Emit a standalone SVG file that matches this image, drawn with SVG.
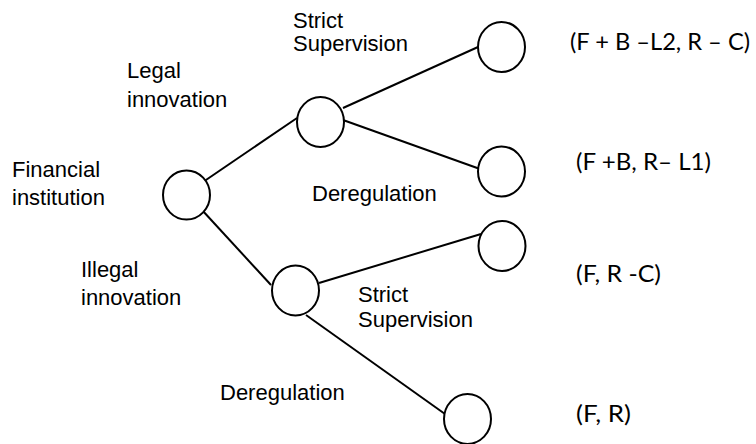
<svg xmlns="http://www.w3.org/2000/svg" width="756" height="444" viewBox="0 0 756 444">
  <style>
    .node { fill: #ffffff; stroke: #000000; stroke-width: 2; }
    .edge { stroke: #000000; stroke-width: 2; fill: none; }
    .lbl { font-family: "Liberation Sans", Arial, sans-serif; font-size: 22px; fill: #000000; }
    .pay { font-family: Lato, "Open Sans", sans-serif; font-size: 24px; fill: #000000; }
  </style>
  <rect width="756" height="444" fill="#ffffff"/>

  <!-- connectors -->
  <g id="connectors">
    <line class="edge" x1="203" y1="182" x2="297" y2="118"/>
    <line class="edge" x1="343" y1="108" x2="478" y2="47"/>
    <line class="edge" x1="343" y1="120" x2="480" y2="169"/>
    <line class="edge" x1="202" y1="210" x2="271" y2="285"/>
    <line class="edge" x1="319" y1="283" x2="481" y2="234"/>
    <line class="edge" x1="306" y1="315" x2="445" y2="414"/>
  </g>

  <!-- decision nodes -->
  <g id="root"><ellipse class="node" cx="186.5" cy="195" rx="23.5" ry="24.5"/></g>
  <g id="legal"><ellipse class="node" cx="320.5" cy="122" rx="23.5" ry="25"/></g>
  <g id="illegal"><ellipse class="node" cx="295.5" cy="290.5" rx="23.5" ry="25"/></g>
  <g id="legal-strict"><ellipse class="node" cx="501.5" cy="47" rx="23.5" ry="25"/></g>
  <g id="legal-dereg"><ellipse class="node" cx="501.5" cy="171.5" rx="23.5" ry="25"/></g>
  <g id="illegal-strict"><ellipse class="node" cx="502" cy="246" rx="23.5" ry="25"/></g>
  <g id="illegal-dereg"><ellipse class="node" cx="467.5" cy="419" rx="23.5" ry="25"/></g>

  <!-- branch labels -->
  <g id="labels">
    <text class="lbl" x="12" y="177">Financial</text>
    <text class="lbl" x="12" y="205">institution</text>
    <text class="lbl" x="127" y="78">Legal</text>
    <text class="lbl" x="127" y="107">innovation</text>
    <text class="lbl" x="293" y="28">Strict</text>
    <text class="lbl" x="293" y="51">Supervision</text>
    <text class="lbl" x="312" y="201">Deregulation</text>
    <text class="lbl" x="81" y="277">Illegal</text>
    <text class="lbl" x="81" y="305">innovation</text>
    <text class="lbl" x="358" y="302">Strict</text>
    <text class="lbl" x="358" y="327">Supervision</text>
    <text class="lbl" x="220" y="400">Deregulation</text>
  </g>

  <!-- payoffs -->
  <g id="payoffs">
    <text class="pay" x="570" y="50" font-size="23" textLength="180" lengthAdjust="spacingAndGlyphs">(F + B –L2, R – C)</text>
    <text class="pay" x="576" y="170" textLength="135" lengthAdjust="spacingAndGlyphs">(F +B, R– L1)</text>
    <text class="pay" x="576" y="282" textLength="85" lengthAdjust="spacingAndGlyphs">(F, R -C)</text>
    <text class="pay" x="576" y="422" textLength="55" lengthAdjust="spacingAndGlyphs">(F, R)</text>
  </g>
</svg>
